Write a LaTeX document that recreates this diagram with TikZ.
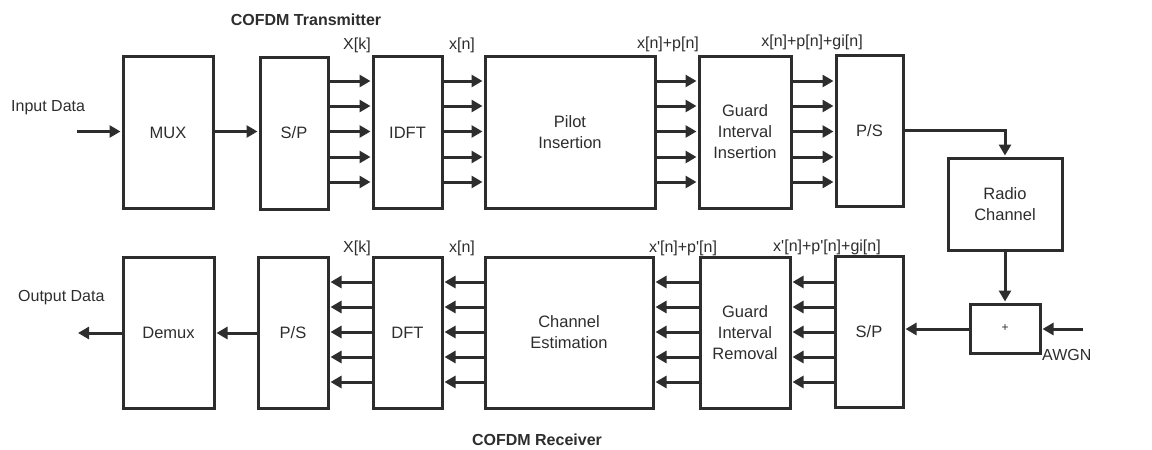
\documentclass[tikz,border=0pt]{standalone}
\usepackage{fontspec}
\setmainfont{Liberation Sans}
\usetikzlibrary{arrows.meta}
\definecolor{ink}{RGB}{45,45,45}
\begin{document}
\begin{tikzpicture}[x=1pt,y=-1pt,
  blk/.style={draw=ink, line width=3pt, inner sep=0pt, align=center,
    font=\fontsize{16.5}{21}\selectfont, text=ink},
  arr/.style={draw=ink, line width=3pt, -{Triangle[length=11pt,width=12pt]}, shorten >=1pt},
  lab/.style={font=\fontsize{16}{18}\selectfont, text=ink, inner sep=0pt},
  ttl/.style={font=\bfseries\fontsize{16}{18}\selectfont, text=ink, inner sep=0pt}]
\useasboundingbox (0,0) rectangle (1152,450);
% top row
\node[blk, minimum width=90pt,  minimum height=152pt] (mux)   at (168,132.5) {MUX};
\node[blk, minimum width=68pt,  minimum height=152pt] (sp1)   at (294,133)   {S/P};
\node[blk, minimum width=69pt,  minimum height=152pt] (idft)  at (407.5,132.5) {IDFT};
\node[blk, minimum width=170pt, minimum height=152pt] (pilot) at (570,132)   {Pilot\\Insertion};
\node[blk, minimum width=92pt,  minimum height=152pt] (gii)   at (745,132)   {Guard\\Interval\\Insertion};
\node[blk, minimum width=67pt,  minimum height=151pt] (ps1)   at (869.5,131) {P/S};
\node[blk, minimum width=114pt, minimum height=92pt]  (radio) at (1005,204)  {Radio\\Channel};
% bottom row
\node[blk, minimum width=91pt,  minimum height=151pt] (demux) at (168.5,333) {Demux};
\node[blk, minimum width=70pt,  minimum height=151pt] (ps2)   at (293,333)   {P/S};
\node[blk, minimum width=69pt,  minimum height=151pt] (dft)   at (407.5,332.5) {DFT};
\node[blk, minimum width=168pt, minimum height=151pt] (chest) at (569,332.5) {Channel\\Estimation};
\node[blk, minimum width=90pt,  minimum height=151pt] (gir)   at (745,332.5) {Guard\\Interval\\Removal};
\node[blk, minimum width=68pt,  minimum height=151pt] (sp2)   at (869,331.5) {S/P};
\node[blk, minimum width=70pt,  minimum height=49pt, font=\fontsize{12}{13}\selectfont] (plus) at (1005,328.5) {+};
% free ends
\coordinate (din)   at (77,131.5);
\coordinate (dout)  at (77,333);
\coordinate (awgn)  at (1083,329);
% top connectors
\draw[arr] (din) -- (mux.west |- din);
\draw[arr] (mux.east |- din) -- (sp1.west |- din);
\foreach \a/\b in {sp1/idft, idft/pilot, pilot/gii, gii/ps1}
  \foreach \y in {81,106,131.5,157,182}
    \draw[arr] (\a.east |- 0,\y) -- (\b.west |- 0,\y);
\draw[arr] (ps1.east |- 0,130) -| (radio.north);
\draw[arr] (radio.south) -- (plus.north);
\draw[arr] (awgn) -- (plus.east |- awgn);
\draw[arr] (plus.west |- awgn) -- (sp2.east |- awgn);
% bottom connectors
\foreach \a/\b in {sp2/gir, gir/chest, chest/dft, dft/ps2}
  \foreach \y in {282,307,332,357,382}
    \draw[arr] (\a.west |- 0,\y) -- (\b.east |- 0,\y);
\draw[arr] (ps2.west |- dout) -- (demux.east |- dout);
\draw[arr] (demux.west |- dout) -- (dout);
% labels
\node[ttl] (ttx) at (306,20) {COFDM Transmitter};
\node[ttl] (trx) at (537,440) {COFDM Receiver};
\node[lab, anchor=west] (lin) at (11,108) {Input Data};
\node[lab, anchor=west] (lout) at (18,298) {Output Data};
\node[lab, anchor=west] (lawgn) at (1042,355) {AWGN};
\node[lab] (t1) at (357,45) {X[k]};
\node[lab] (t2) at (462,45) {x[n]};
\node[lab] (t3) at (668,44) {x[n]+p[n]};
\node[lab] (t4) at (812,42) {x[n]+p[n]+gi[n]};
\node[lab] (b1) at (357,248) {X[k]};
\node[lab] (b2) at (462,248) {x[n]};
\node[lab] (b3) at (683,248) {x\textquotesingle[n]+p\textquotesingle[n]};
\node[lab] (b4) at (827,247) {x\textquotesingle[n]+p\textquotesingle[n]+gi[n]};
\end{tikzpicture}
\end{document}
